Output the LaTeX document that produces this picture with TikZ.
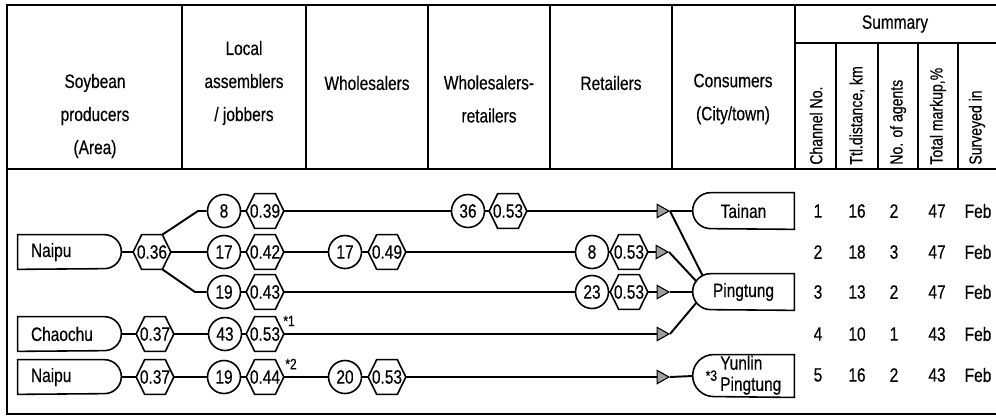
\documentclass[tikz,border=0pt]{standalone}
\usepackage{fontspec}
\setmainfont{Liberation Sans}[FakeStretch=0.8,FakeBold=0.4]
\usetikzlibrary{arrows.meta,calc}
\newlength\pxu \setlength\pxu{0.02cm}
\newcommand\mytxt{\fontsize{11}{12}\selectfont}
\newcommand\myhead{\fontsize{11}{18.8}\selectfont}
\newcommand\mysmall{\fontsize{8.5}{9}\selectfont}
\tikzset{
  tline/.style={line width=0.9pt},
  boxline/.style={line width=0.9pt},
  conn/.style={line width=1.1pt},
  arr/.style={conn,-{Triangle[length=0.27cm,width=0.3cm,fill=gray!75,line width=0.6pt]}},
  hexn/.style={rectangle,inner sep=0pt,minimum width=37\pxu,minimum height=34\pxu,font=\mytxt},
  circ/.style={circle,draw,line width=0.9pt,inner sep=0pt,minimum size=33\pxu,font=\mytxt},
  prodn/.style={rectangle,inner ysep=0pt,inner xsep=13\pxu,text width=77\pxu,align=left,minimum height=34\pxu,font=\mytxt},
  consn/.style={rectangle,inner sep=0pt,minimum width=101\pxu,font=\mytxt},
  head/.style={align=center,font=\myhead,inner sep=0pt},
  rothead/.style={rotate=90,anchor=west,inner sep=0pt,font=\fontsize{10}{12}\selectfont},
  num/.style={font=\mytxt,inner sep=0pt},
  star/.style={font=\mysmall,inner sep=0pt}
}
\newcommand\hexa[4]{%
  \node[hexn] (#1) at (#2,#3) {#4};
  \draw[boxline] (#1.west) -- ([xshift=8.5\pxu]#1.north west) -- ([xshift=-8.5\pxu]#1.north east)
    -- (#1.east) -- ([xshift=-8.5\pxu]#1.south east) -- ([xshift=8.5\pxu]#1.south west) -- cycle;}
\newcommand\prodbox[4]{%
  \node[prodn] (#1) at (#2,#3) {#4};
  \draw[boxline] (#1.north west) -- ([xshift=-17\pxu]#1.north east)
    arc[start angle=90,end angle=-90,radius=17\pxu] -- (#1.south west) -- cycle;}
\newcommand\consbox[5]{%
  \node[consn,minimum height=#4\pxu] (#1) at (#2,#3) {#5};
  \draw[boxline] (#1.north east) -- ([xshift=#4/2*\pxu]#1.north west)
    arc[start angle=90,end angle=270,radius=#4/2*\pxu] -- (#1.south east) -- cycle;}
\begin{document}
\begin{tikzpicture}[x=0.02cm,y=-0.02cm]
\useasboundingbox (0,0) rectangle (996,416);
% table frame
\draw[tline] (996,5) -- (7,5) -- (7,414) -- (996,414);
\draw[tline] (7,169) -- (996,169);
\foreach \xx in {182,306,428,550,672,795} \draw[tline] (\xx,5) -- (\xx,169);
\draw[tline] (795,43) -- (996,43);
\foreach \xx in {836,878,918,958} \draw[tline] (\xx,43) -- (\xx,169);
% headers
\node[head] (h1) at (95,116) {Soybean\\producers\\(Area)};
\node[head] (h2) at (244,83) {Local\\assemblers\\/ jobbers};
\node[head] (h3) at (367,83) {Wholesalers};
\node[head] (h4) at (489,99) {Wholesalers-\\retailers};
\node[head] (h5) at (611,83) {Retailers};
\node[head] (h6) at (733,99) {Consumers\\(City/town)};
\node[head] (h7) at (895,24) {Summary};
\node[rothead] (s1) at (816,165) {Channel No.};
\node[rothead] (s2) at (857,165) {Ttl.distance, km};
\node[rothead] (s3) at (898,165) {No. of agents};
\node[rothead] (s4) at (938,165) {Total markup,\%};
\node[rothead] (s5) at (977,165) {Surveyed in};
% producers
\prodbox{pa}{69.5}{252}{Naipu}
\prodbox{pb}{69.5}{334}{Chaochu}
\prodbox{pc}{69.5}{377}{Naipu}
% consumers
\consbox{tai}{743.5}{211}{36}{Tainan}
\consbox{ping}{743.5}{292}{36}{Pingtung}
\consbox{yun}{743.5}{376}{42}{{\mysmall *3}\,\begin{tabular}{@{}l@{}}Yunlin\\Pingtung\end{tabular}}
% hexagons and circles
\hexa{x36}{152}{252}{0.36}
\node[circ] (c8) at (224,211) {8};
\hexa{x39}{265}{211}{0.39}
\node[circ] (c36) at (468,211) {36};
\hexa{x53a}{508}{211}{0.53}
\node[circ] (c17a) at (224,252) {17};
\hexa{x42}{265}{252}{0.42}
\node[circ] (c17b) at (345,252) {17};
\hexa{x49}{387}{252}{0.49}
\node[circ] (c8b) at (592,252) {8};
\hexa{x53b}{629}{252}{0.53}
\node[circ] (c19) at (224,292) {19};
\hexa{x43}{265}{292}{0.43}
\node[circ] (c23) at (592,292) {23};
\hexa{x53c}{629}{292}{0.53}
\hexa{x37a}{155}{334}{0.37}
\node[circ] (c43) at (225,334) {43};
\hexa{x53d}{265}{334}{0.53}
\node[star] (st1) at (289,321) {*1};
\hexa{x37b}{155}{377}{0.37}
\node[circ] (c19b) at (224,377) {19};
\hexa{x44}{265}{377}{0.44}
\node[star] (st2) at (291,364) {*2};
\node[circ] (c20) at (345,377) {20};
\hexa{x53e}{387}{377}{0.53}
% junction coordinates
\coordinate (k1) at (198,211);
\coordinate (k3) at (195,292);
\coordinate (t1) at (670,211);
\coordinate (t2) at (669,252);
\coordinate (t3) at (670,292);
\coordinate (t4) at (670,334);
\coordinate (t5) at (670,377);
% row 1
\draw[conn] (pa.east) -- (x36.west);
\draw[conn] ([xshift=-8.5\pxu]x36.north east) -- (k1) -- (c8.west);
\draw[conn] (c8.east) -- (x39.west);
\draw[conn] (x39.east) -- (c36.west);
\draw[conn] (c36.east) -- (x53a.west);
\draw[arr] (x53a.east) -- (t1);
\draw[conn] (t1) -- (tai.west);
\draw[conn] (t1) -- ($(ping.north west)+(10,2)$);
% row 2
\draw[conn] (x36.east) -- (c17a.west);
\draw[conn] (c17a.east) -- (x42.west);
\draw[conn] (x42.east) -- (c17b.west);
\draw[conn] (c17b.east) -- (x49.west);
\draw[conn] (x49.east) -- (c8b.west);
\draw[conn] (c8b.east) -- (x53b.west);
\draw[arr] (x53b.east) -- (t2);
\draw[conn] (t2) -- ($(ping.north west)+(4,8)$);
% row 3
\draw[conn] ([xshift=-8.5\pxu]x36.south east) -- (k3) -- (c19.west);
\draw[conn] (c19.east) -- (x43.west);
\draw[conn] (x43.east) -- (c23.west);
\draw[conn] (c23.east) -- (x53c.west);
\draw[arr] (x53c.east) -- (t3);
\draw[conn] (t3) -- (ping.west);
% row 4
\draw[conn] (pb.east) -- (x37a.west);
\draw[conn] (x37a.east) -- (c43.west);
\draw[conn] (c43.east) -- (x53d.west);
\draw[arr] (x53d.east) -- (t4);
\draw[conn] (t4) -- ($(ping.south west)+(4,-8)$);
% row 5
\draw[conn] (pc.east) -- (x37b.west);
\draw[conn] (x37b.east) -- (c19b.west);
\draw[conn] (c19b.east) -- (x44.west);
\draw[conn] (x44.east) -- (c20.west);
\draw[conn] (c20.east) -- (x53e.west);
\draw[arr] (x53e.east) -- (t5);
\draw[conn] (t5) -- (yun.west);
% summary values
\foreach \r/\yy/\a/\b/\c/\d in {1/211/1/16/2/47, 2/252/2/18/3/47, 3/292/3/13/2/47, 4/334/4/10/1/43, 5/375/5/16/2/43}{
  \node[num] (ch\r) at (818,\yy) {\a};
  \node[num] (di\r) at (857,\yy) {\b};
  \node[num] (ag\r) at (894,\yy) {\c};
  \node[num] (mk\r) at (937,\yy) {\d};
  \node[num] (sv\r) at (978,\yy) {Feb};
}
\end{tikzpicture}
\end{document}
